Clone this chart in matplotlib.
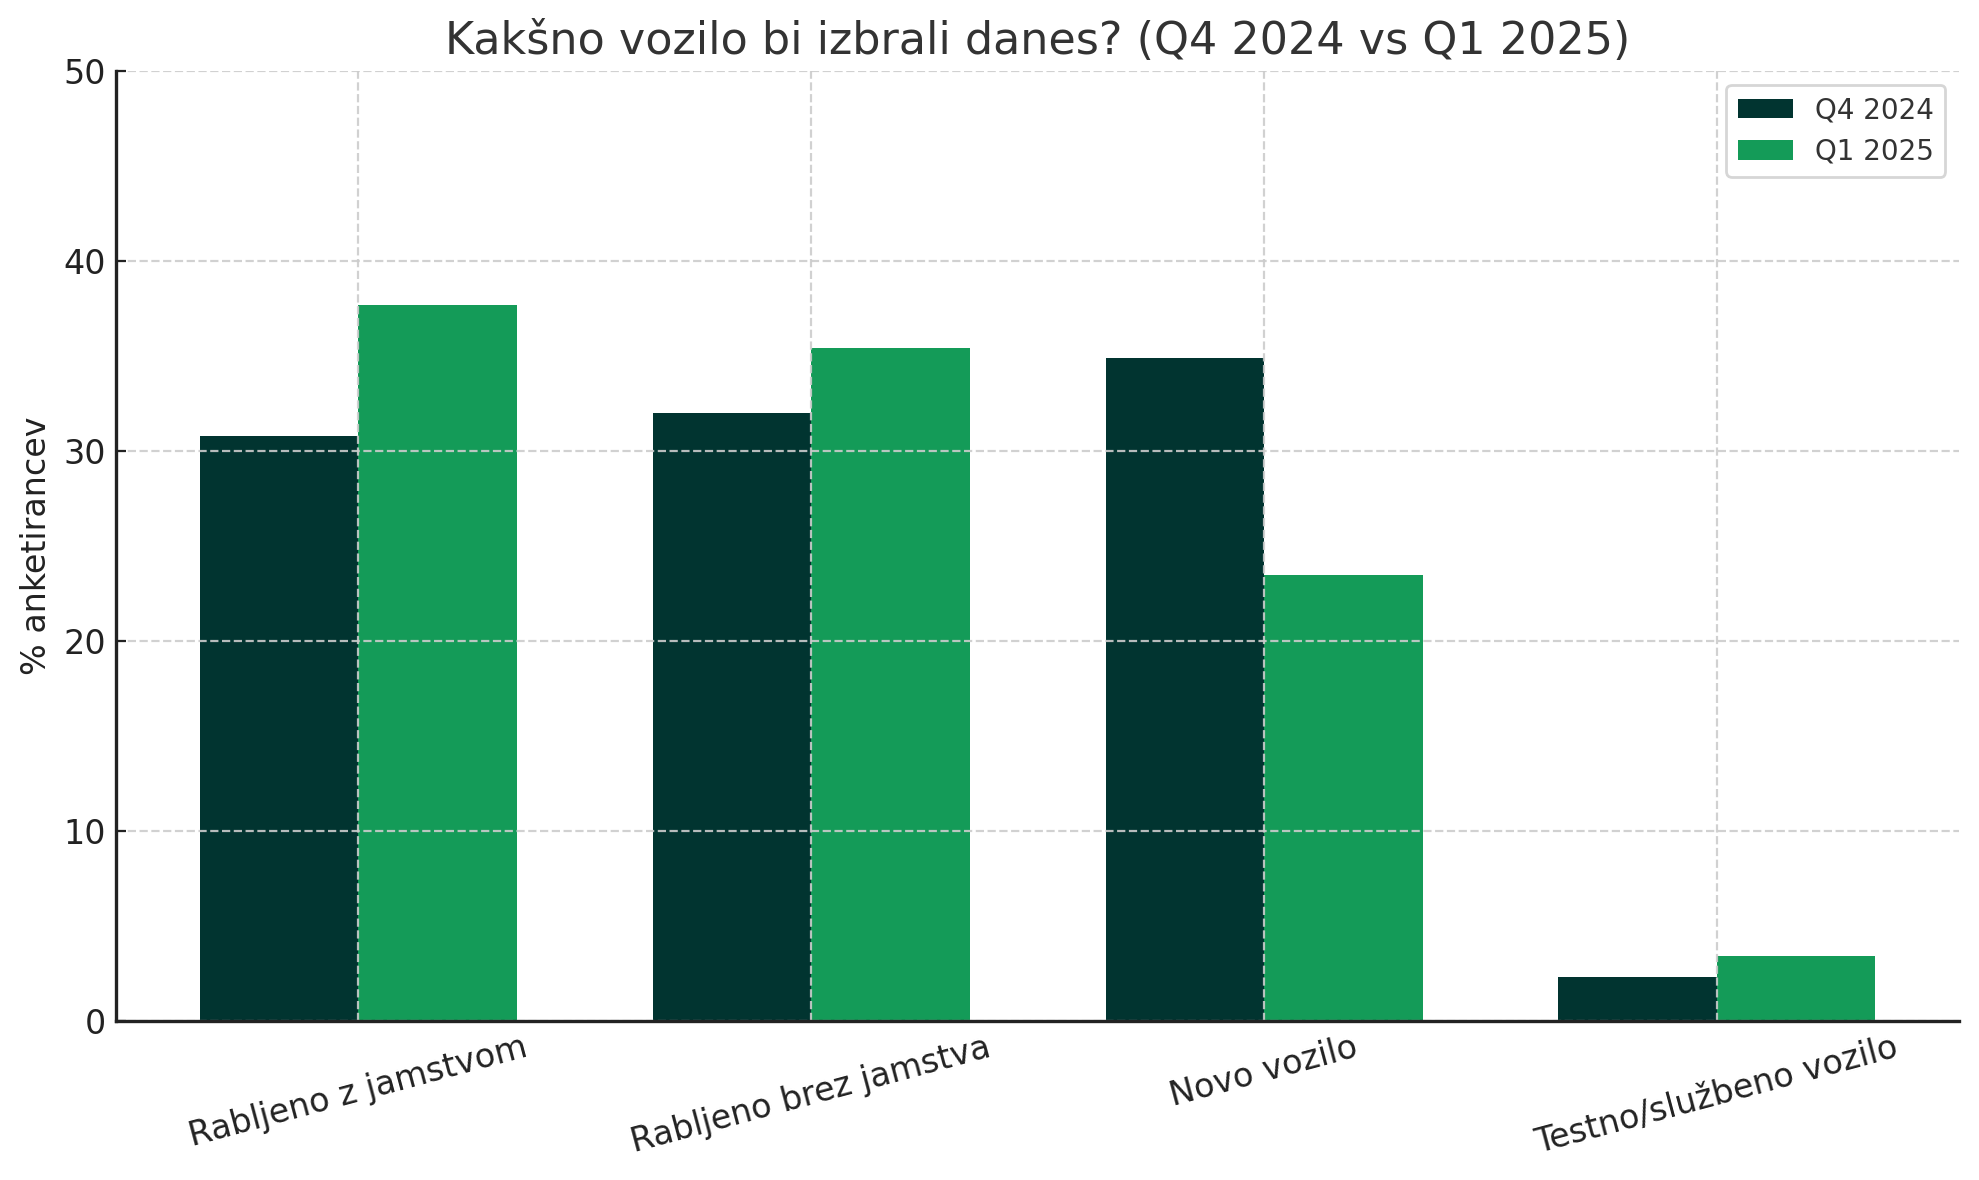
import numpy as np
import matplotlib.pyplot as plt

kategorije = ["Rabljeno z jamstvom", "Rabljeno brez jamstva", "Novo vozilo", "Testno/službeno vozilo"]
q4_2024 = [30.8, 32.0, 34.9, 2.3]
q1_2025 = [37.7, 35.4, 23.5, 3.4]
oznake = ["Q4 2024", "Q1 2025"]

x = np.arange(len(kategorije))
sirina = 0.35

fig, ax = plt.subplots(figsize=(1979 / 200, 1180 / 200), dpi=200)
fig.subplots_adjust(left=0.0586, right=0.990, bottom=0.1347, top=0.9398)

ax.bar(x - sirina / 2, q4_2024, sirina, color="#013430", label=oznake[0])
ax.bar(x + sirina / 2, q1_2025, sirina, color="#149b58", label=oznake[1])

ax.set_ylim(0, 50)
ax.set_xticks(x)
ax.set_xticklabels(kategorije, rotation=15, fontsize=12, color="#222222")
ax.tick_params(axis="both", direction="in", color="#222222")
ax.tick_params(axis="x", length=0)
ax.tick_params(axis="y", labelsize=12, labelcolor="#222222")
ax.set_ylabel("% anketirancev", fontsize=12, color="#222222")
ax.set_title("Kakšno vozilo bi izbrali danes? (Q4 2024 vs Q1 2025)", fontsize=16, color="#333333")

ax.grid(True, linestyle="--", color="#cccccc", linewidth=0.8, alpha=0.9)
ax.spines["top"].set_visible(False)
ax.spines["right"].set_visible(False)
ax.spines["left"].set_color("#222222")
ax.spines["bottom"].set_color("#222222")
ax.spines["left"].set_linewidth(1.2)
ax.spines["bottom"].set_linewidth(1.2)

ax.legend(loc="upper right", fontsize=10, labelcolor="#333333", edgecolor="#cccccc")

plt.savefig("out.png", dpi=200)
